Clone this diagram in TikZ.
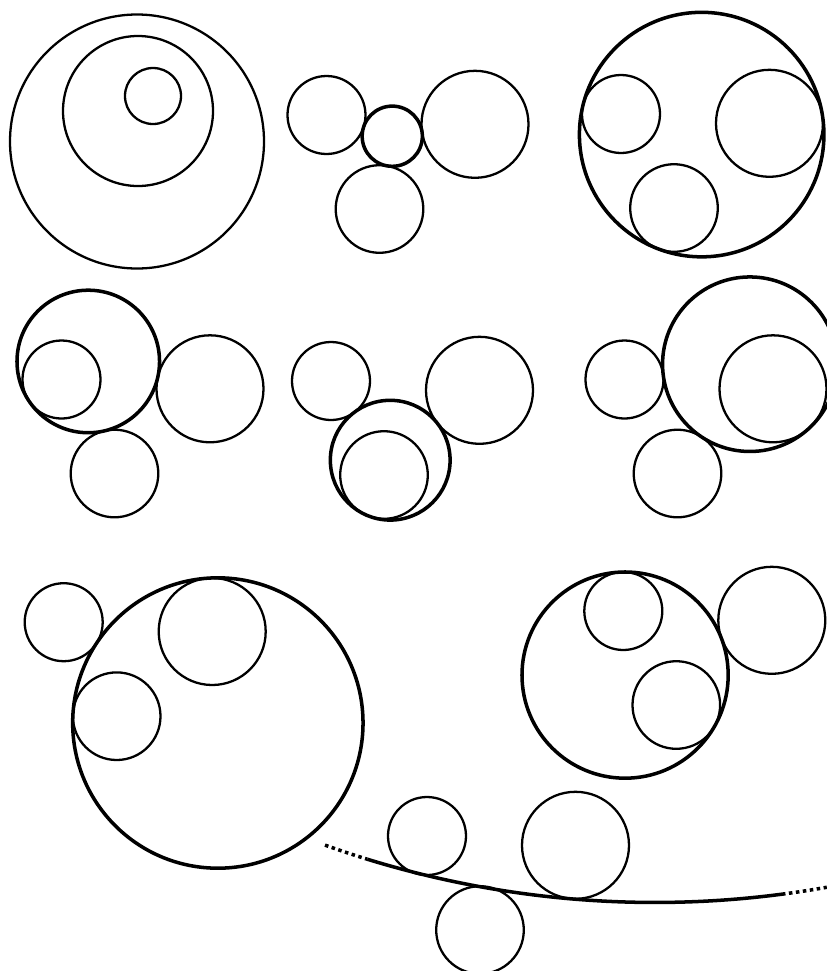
\documentclass[tikz,border=0pt]{standalone}
\usepackage{tikz}
\usetikzlibrary{calc}

\begin{document}
\begin{tikzpicture}[x=0.02cm, y=0.02cm,
    given/.style={line width=1.3pt},
    solution/.style={line width=2pt}]

\useasboundingbox (0,0) rectangle (827,-971);

% ---- Nested circles: no tangent circle ----------------------------------
\draw[given] (137,-141.5) circle[radius=127];
\draw[given] (138,-111) circle[radius=75];
\draw[given] (153,-96) circle[radius=28];

% ---- The three given circles, repeated in every other panel -------------
\foreach \ax/\ay in {326.5/-115, 621/-114, 61.5/-379.5, 331/-381,
                     624.5/-379.5, 63.7/-622.2, 623.3/-611, 427/-836}{
  \draw[given] (\ax,\ay) circle[radius=39];
  \draw[given] (\ax+148.5,\ay-9.3) circle[radius=53.5];
  \draw[given] (\ax+53,\ay-94) circle[radius=43.8];
}

% ---- Tangent circles -----------------------------------------------------
\draw[solution] (392.26,-136.21) circle[radius=30.1];   % touches all outside
\draw[solution] (701.68,-134.58) circle[radius=122.26]; % encloses all
\draw[solution] (88.26,-361.46)  circle[radius=71.27];  % encloses left
\draw[solution] (390.22,-460.18) circle[radius=59.88];  % encloses bottom
\draw[solution] (749.84,-364.2)  circle[radius=87.27];  % encloses right
\draw[solution] (217.85,-723.0)  circle[radius=145.18]; % encloses right+bottom
\draw[solution] (625.09,-675.08) circle[radius=103.1];  % encloses left+bottom

% ---- Very large circle, only a piece of it ------------------------------
\coordinate (bigC) at (655,75.5);
\draw[solution] (bigC) ++(-107.11:978)
      arc[start angle=-107.11, end angle=-82.54, radius=978];
\draw[solution, dotted] (bigC) ++(-109.72:978)
      arc[start angle=-109.72, end angle=-107.11, radius=978];
\draw[solution, dotted] (bigC) ++(-82.54:978)
      arc[start angle=-82.54, end angle=-79.88, radius=978];

\end{tikzpicture}
\end{document}
